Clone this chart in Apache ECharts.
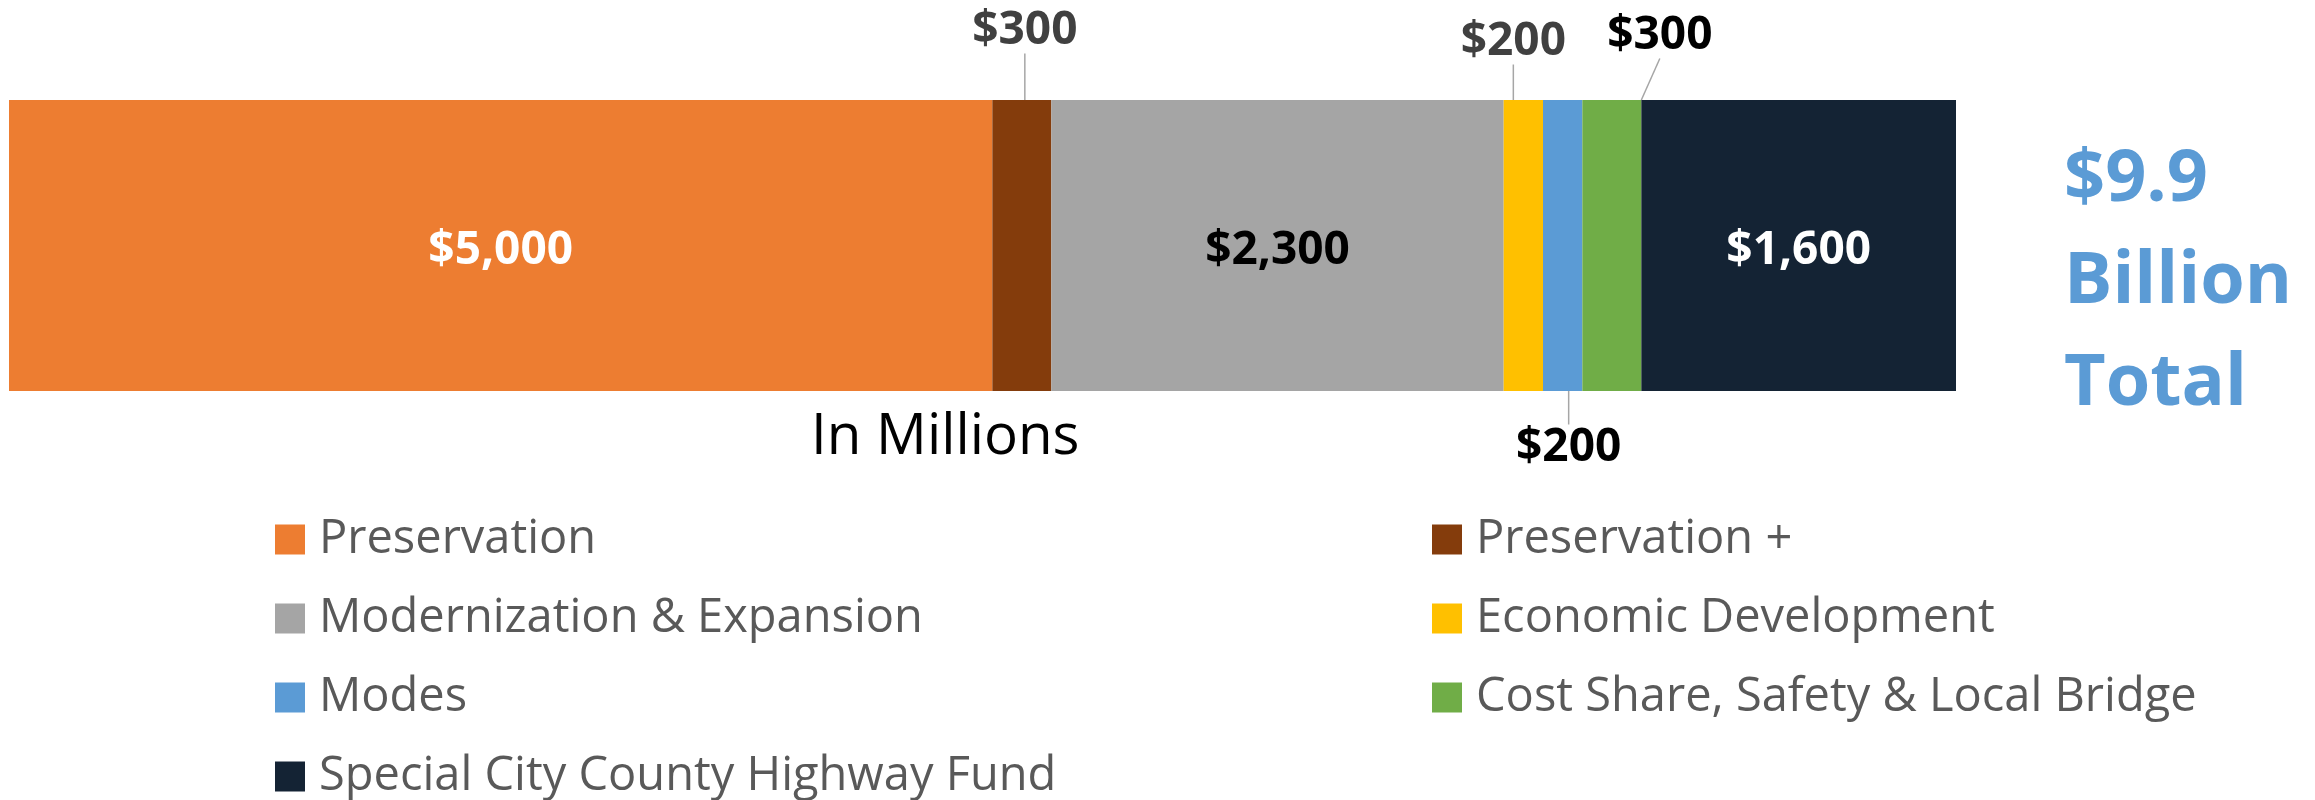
<!DOCTYPE html>
<html>
<head>
	<meta charset="utf-8">
	<title>Funding breakdown</title>
	<script type="text/javascript" src="https://cdn.jsdelivr.net/npm/echarts@6/dist/echarts.min.js"></script>
	<style type="text/css">
		body{
			margin:0;
			background:#fff;
		}
	</style>
</head>
<body>
<div id="main" style="width: 2315px;height: 800px"></div>
<script type="text/javascript">
	// program categories and amounts (in millions)
	var categories = ['Preservation', 'Preservation +', 'Modernization & Expansion', 'Economic Development', 'Modes', 'Cost Share, Safety & Local Bridge', 'Special City County Highway Fund'];
	var values = [5000, 300, 2300, 200, 200, 300, 1600];
	var leftLegend = ['Preservation', 'Modernization & Expansion', 'Modes', 'Special City County Highway Fund'];
	var rightLegend = ['Preservation +', 'Economic Development', 'Cost Share, Safety & Local Bridge'];
	var totalText = ['$9.9', 'Billion', 'Total'];
	var unitText = 'In Millions';

	var colors = ['#ED7D31', '#843C0C', '#A5A5A5', '#FFC000', '#5B9BD5', '#70AD47', '#142334'];
	var labelColors = ['#fff', '#404040', '#000', '#404040', '#000', '#000', '#fff'];
	// label offsets from segment centre, null = inside the bar
	var labelMoves = [null, [3, -215], null, [-10, -204], [6, 202], [48, -210], null];

	var font = 'Open Sans';
	var myChart = echarts.init(document.getElementById("main"));

	var series = [];
	for(var i=0;i<categories.length;i++){
		var mv = labelMoves[i];
		var s = {
			name: categories[i],
			type: 'bar',
			stack: 'total',
			barCategoryGap: '0%',
			data: [values[i]],
			itemStyle: {
				color: colors[i]
			},
			label: {
				show: true,
				position: 'inside',
				offset: [0, 5],
				color: labelColors[i],
				fontFamily: font,
				fontWeight: 'bold',
				fontSize: 46,
				formatter: function(p){
					return '$' + p.value.toLocaleString('en-US');
				}
			},
			emphasis: {disabled: true}
		};
		if(mv){
			s.labelLayout = {dx: mv[0], dy: mv[1]};
			s.labelLine = {
				show: true,
				length2: 0,
				lineStyle: {color: '#A6A6A6', width: 1.5}
			};
		}
		series.push(s);
	}

	var legendBase = {
		orient: 'vertical',
		top: 516,
		height: 300,
		padding: 0,
		itemGap: 32,
		itemWidth: 30,
		itemHeight: 30,
		icon: 'rect',
		selectedMode: false,
		textStyle: {
			color: '#595959',
			fontFamily: font,
			fontSize: 47,
			lineHeight: 47,
			padding: [0, 0, 0, 9]
		}
	};

	var option = {
		animation: false,
		grid: {
			top: 100,
			left: 9,
			right: 359,
			bottom: 409
		},
		xAxis: {
			type: 'value',
			min: 0,
			max: 9900,
			show: false
		},
		yAxis: {
			type: 'category',
			data: ['Total'],
			show: false
		},
		legend: [
			Object.assign({}, legendBase, {left: 275, data: leftLegend}),
			Object.assign({}, legendBase, {left: 1432, data: rightLegend})
		],
		graphic: [{
			type: 'text',
			left: 811,
			top: 409,
			style: {
				text: unitText,
				fill: '#000',
				font: '56.5px "Open Sans"'
			}
		}, {
			type: 'text',
			left: 2064,
			top: 129,
			style: {
				text: totalText.join('\n'),
				fill: '#5B9BD5',
				fontFamily: font,
				fontWeight: 'bold',
				fontSize: 72,
				lineHeight: 102
			}
		}],
		series: series
	};

	myChart.setOption(option);
</script>
</body>
</html>
